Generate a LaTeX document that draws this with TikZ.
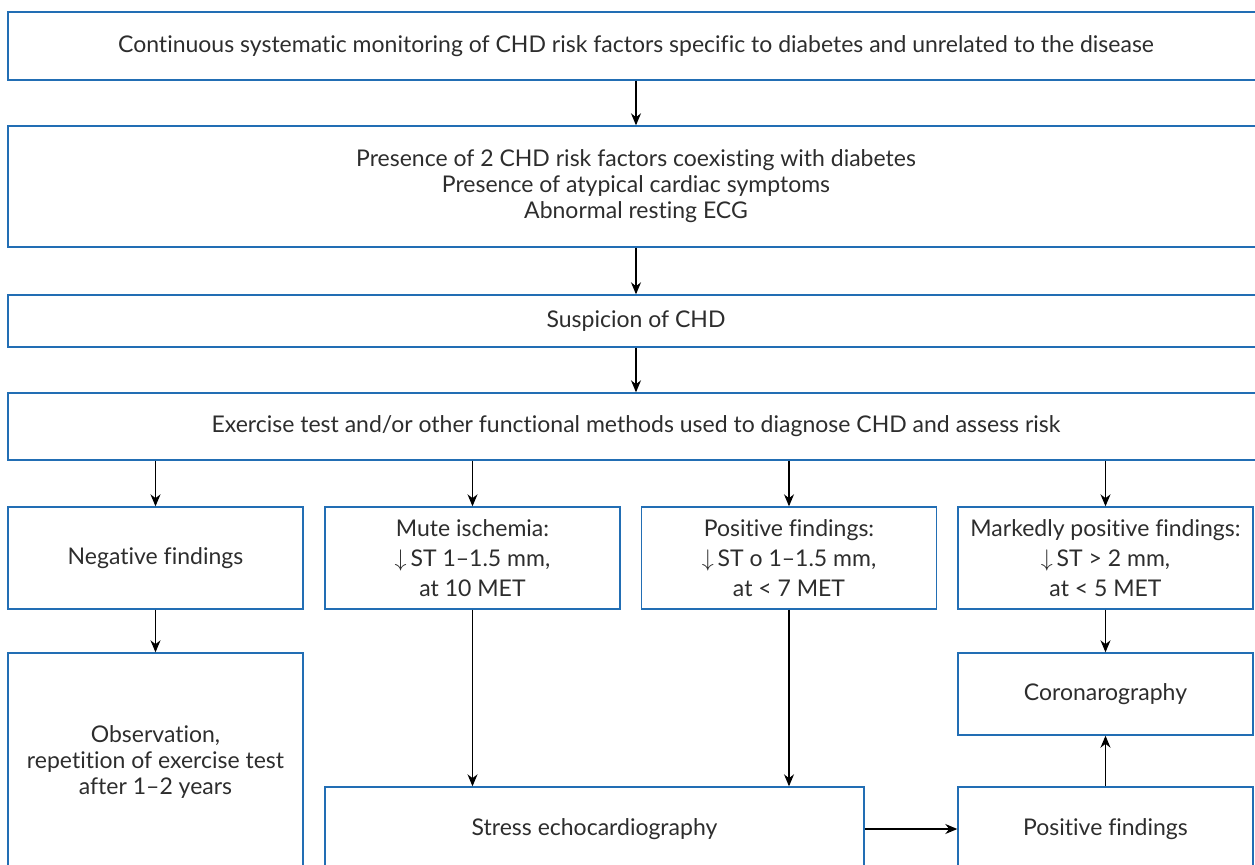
\documentclass[tikz,border=0pt]{standalone}
\usepackage{fontspec}
\setmainfont{Lato}[Ligatures = NoCommon]
\usetikzlibrary{arrows.meta}

\definecolor{boxblue}{RGB}{34,110,180}
\definecolor{txtgray}{RGB}{45,45,45}

\tikzset{
  box/.style = {draw = boxblue, line width = 0.7pt, text = txtgray,
    align = center, inner sep = 0pt, font = \fontsize{11.5}{13}\selectfont},
  rowbox/.style = {box, font = \fontsize{11.5}{15}\selectfont,
    minimum width = 147.5pt, minimum height = 51pt},
  link/.style = {-{Stealth[length = 6pt, width = 5pt]}, line width = 0.55pt}
}

\begin{document}
\begin{tikzpicture}[x = 0.5pt, y = -0.5pt]
  \useasboundingbox (0, 0) rectangle (1255, 864);

  % upper chain
  \node[box, minimum width = 628pt, minimum height = 34pt] (monitor) at (636, 46)
  {Continuous systematic monitoring of CHD risk factors specific to diabetes and unrelated to the disease};
  \node[box, minimum width = 628pt, minimum height = 60.5pt] (presence) at (636, 186.5)
  {Presence of 2 CHD risk factors coexisting with diabetes\\
    Presence of atypical cardiac symptoms\\
    Abnormal resting ECG};
  \node[box, minimum width = 628pt, minimum height = 26pt] (suspicion) at (636, 321)
  {Suspicion of CHD};
  \node[box, minimum width = 628pt, minimum height = 33.5pt] (exercise) at (636, 426.5)
  {Exercise test and/or other functional methods used to diagnose CHD and assess risk};

  % findings row
  \node[rowbox] (negative) at (155.5, 558) {Negative findings};
  \node[rowbox] (mute) at (472.5, 558)
  {Mute ischemia:\\ $\downarrow$\,ST 1--1.5 mm,\\ at 10 MET};
  \node[rowbox] (positive) at (789, 558)
  {Positive findings:\\ $\downarrow$\,ST o 1--1.5 mm,\\ at < 7 MET};
  \node[rowbox] (marked) at (1105.5, 558)
  {Markedly positive findings:\\ $\downarrow$\,ST > 2 mm,\\ at < 5 MET};

  % lower part
  \node[box, minimum width = 147.5pt, minimum height = 109pt] (observe) at (155.5, 762)
  {Observation,\\ repetition of exercise test\\ after 1--2 years};
  \node[box, minimum width = 269.5pt, minimum height = 42pt] (stress) at (594.5, 829)
  {Stress echocardiography};
  \node[box, minimum width = 147.5pt, minimum height = 42pt] (posecho) at (1105.5, 829)
  {Positive findings};
  \node[box, minimum width = 147.5pt, minimum height = 41pt] (coro) at (1105.5, 694)
  {Coronarography};

  \draw[link] (monitor) -- (presence);
  \draw[link] (presence) -- (suspicion);
  \draw[link] (suspicion) -- (exercise);
  \foreach \f in {negative, mute, positive, marked}
    \draw[link] (exercise.south -| \f.north) -- (\f.north);
  \draw[link] (negative) -- (observe);
  \draw[link] (mute.south) -- (mute.south |- stress.north);
  \draw[link] (positive.south) -- (positive.south |- stress.north);
  \draw[link] (stress) -- (posecho);
  \draw[link] (posecho) -- (coro);
  \draw[link] (marked) -- (coro);
\end{tikzpicture}
\end{document}
